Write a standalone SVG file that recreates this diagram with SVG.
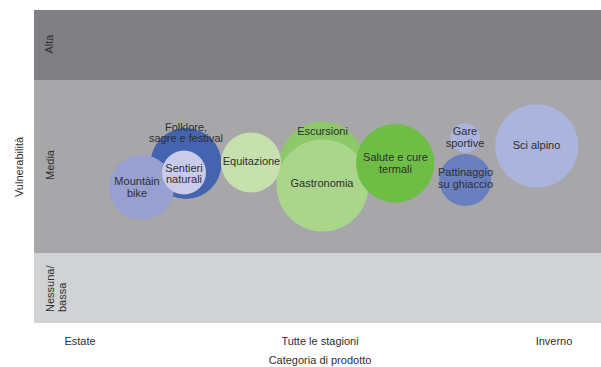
<svg xmlns="http://www.w3.org/2000/svg" width="601" height="367" viewBox="0 0 601 367">
  <style>
    text { font-family: "Liberation Sans", Arial, sans-serif; font-size: 11px; fill: #2f2f2f; }
    .c { text-anchor: middle; }
  </style>
  <g id="bands">
    <rect x="34" y="10" width="567" height="70" fill="#808084"/>
    <rect x="34" y="80" width="567" height="173" fill="#a7a7aa"/>
    <rect x="34" y="253" width="567" height="70" fill="#d1d2d4"/>
  </g>
  <g id="y-axis">
    <text class="c" transform="translate(23,167) rotate(-90)">Vulnerabilità</text>
    <text class="c" transform="translate(53,44) rotate(-90)">Alta</text>
    <text class="c" transform="translate(53.5,165) rotate(-90)">Media</text>
    <text transform="translate(53.5,312) rotate(-90)">Nessuna/</text>
    <text transform="translate(66,312) rotate(-90)">bassa</text>
  </g>
  <g id="x-axis">
    <text class="c" x="80" y="345">Estate</text>
    <text class="c" x="320" y="345">Tutte le stagioni</text>
    <text class="c" x="554" y="345">Inverno</text>
    <text class="c" x="320" y="364">Categoria di prodotto</text>
  </g>
  <g id="folklore">
    <circle cx="186" cy="163.5" r="35.5" fill="#4464b0"/>
    <text class="c" x="186" y="130.5">Folklore,</text>
    <text class="c" x="186" y="142">sagre e festival</text>
  </g>
  <g id="mountain-bike">
    <circle cx="141.5" cy="187.5" r="32.5" fill="#97a0d0"/>
    <text class="c" x="137" y="185">Mountàin</text>
    <text class="c" x="137" y="196.5">bike</text>
  </g>
  <g id="sentieri">
    <circle cx="184" cy="172.5" r="22" fill="#c9cce8"/>
    <text class="c" x="184" y="171.5">Sentieri</text>
    <text class="c" x="184" y="183">naturali</text>
  </g>
  <g id="escursioni">
    <circle cx="322" cy="164" r="42.5" fill="#8dc968"/>
    <text class="c" x="322.5" y="135">Escursioni</text>
  </g>
  <g id="equitazione">
    <circle cx="251" cy="162.5" r="30" fill="#c6e0ae"/>
    <text class="c" x="251.5" y="165">Equitazione</text>
  </g>
  <g id="gastronomia">
    <circle cx="322.5" cy="185.5" r="46" fill="#aad68c"/>
    <text class="c" x="322" y="187">Gastronomia</text>
  </g>
  <g id="salute">
    <circle cx="395.2" cy="163.3" r="39.2" fill="#6ebe45"/>
    <text class="c" x="395.5" y="160.5">Salute e cure</text>
    <text class="c" x="395.5" y="173">termali</text>
  </g>
  <g id="gare-sportive">
    <circle cx="465" cy="138" r="14.7" fill="#aab4de"/>
    <text class="c" x="465" y="135">Gare</text>
    <text class="c" x="465" y="147">sportive</text>
  </g>
  <g id="pattinaggio">
    <circle cx="465.3" cy="180" r="26" fill="#6a7fc0"/>
    <text class="c" x="465.5" y="176">Pattinaggio</text>
    <text class="c" x="465.5" y="188">su ghiaccio</text>
  </g>
  <g id="sci-alpino">
    <circle cx="536.7" cy="146" r="41.7" fill="#abb4dc"/>
    <text class="c" x="536.5" y="148.5">Sci alpino</text>
  </g>
</svg>
